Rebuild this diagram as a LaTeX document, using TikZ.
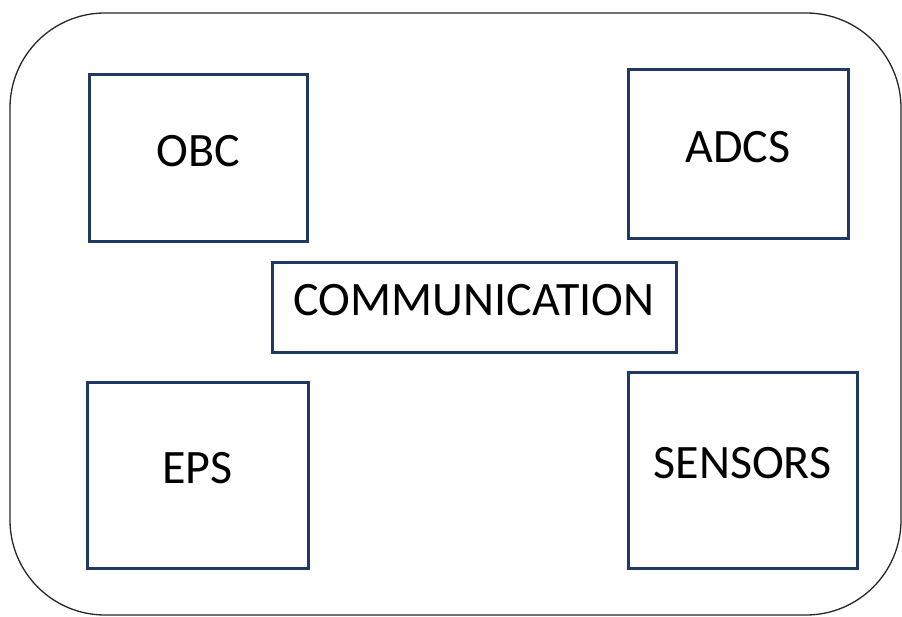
\documentclass[tikz,border=0pt]{standalone}
\usepackage{fontspec}
\setmainfont{Carlito}
\usepackage{xcolor}
\usepackage{tikz}
\usetikzlibrary{positioning}

\definecolor{boxblue}{RGB}{32,56,100}

\begin{document}
\begin{tikzpicture}[x=1pt, y=-1pt, font=\fontsize{48}{58}\selectfont]
		\tikzstyle{frame} = [draw=black!85, line width=1.3pt, rounded corners=95pt, minimum width=891pt, minimum height=602pt]
		\tikzstyle{block} = [draw=boxblue, line width=3pt, rectangle, text height=31pt, text depth=15pt, inner sep=0pt]
		
		\useasboundingbox (0,0) rectangle (902,617);
		
		\node[frame] 	at (455.5, 314)		(sat) 	{};
		
		\node[block, minimum width=218pt, minimum height=167pt] 	at (198, 158.5)		(obc) 	{OBC};
		\node[block, minimum width=220pt, minimum height=169pt] 	at (738, 154.5)		(adcs) 	{ADCS};
		\node[block, minimum width=404pt, minimum height=90pt] 	at (474, 308)		(comm) 	{COMMUNICATION};
		\node[block, minimum width=221pt, minimum height=185pt] 	at (197.5, 475.5)	(eps) 	{EPS};
		\node[block, minimum width=229pt, minimum height=195pt] 	at (742.5, 470.5)	(sensors) 	{SENSORS};
	\end{tikzpicture}
\end{document}
